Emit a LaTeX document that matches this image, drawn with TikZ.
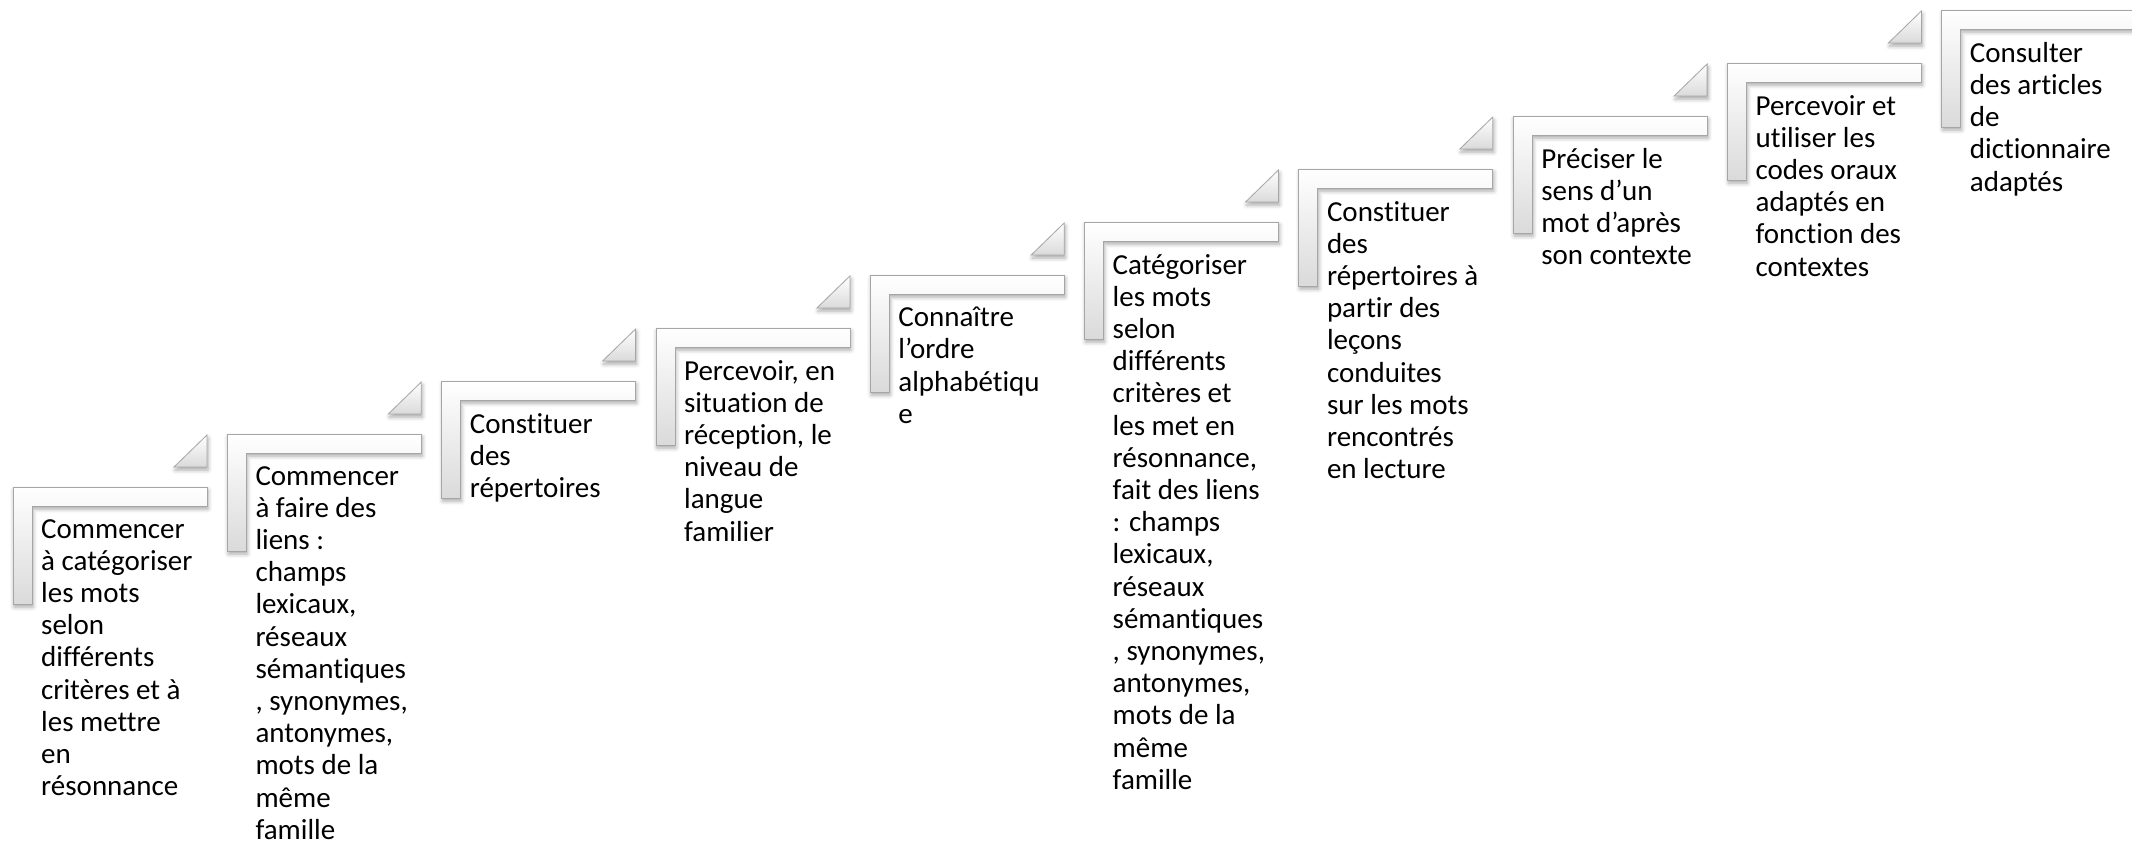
\documentclass[tikz,border=0pt]{standalone}
\usepackage{fontspec}
\setmainfont{Carlito}[Ligatures=NoCommon]
\usepackage{tikz}
\usetikzlibrary{shadows.blur}
\definecolor{stepedge}{HTML}{A6A6A6}
\definecolor{stepshade}{HTML}{DADADA}

\begin{document}
\begin{tikzpicture}[
  x=1pt, y=-1pt,
  stepbar/.style={draw=stepedge,line width=0.8pt,top color=white,bottom color=stepshade,
                  blur shadow={shadow xshift=1pt,shadow yshift=-3pt,
                               shadow blur radius=4pt,shadow opacity=35}},
  stepshape/.pic={
    \path[stepbar] (0,0) -- (194,0) -- (194,19) -- (19,19) -- (19,117) -- (0,117) -- cycle;
  },
  stepcorner/.pic={
    \path[stepbar] (194,-52) -- (194,-20) -- (161,-20) -- cycle;
  },
  lbl/.style={anchor=north west,inner sep=0pt,align=left,
              font=\fontsize{29}{32.2}\selectfont,execute at begin node=\strut}
]
  \useasboundingbox (0,0) rectangle (2132,846);

  % the stairs
  \pic at (13,487) {stepshape};
  \pic at (227.3,434) {stepshape};
  \pic at (441.6,381) {stepshape};
  \pic at (655.9,328) {stepshape};
  \pic at (870.2,275) {stepshape};
  \pic at (1084.5,222) {stepshape};
  \pic at (1298.8,169) {stepshape};
  \pic at (1513.1,116) {stepshape};
  \pic at (1727.4,63) {stepshape};
  \pic at (1941.7,10) {stepshape};

  \pic at (13,487) {stepcorner};
  \pic at (227.3,434) {stepcorner};
  \pic at (441.6,381) {stepcorner};
  \pic at (655.9,328) {stepcorner};
  \pic at (870.2,275) {stepcorner};
  \pic at (1084.5,222) {stepcorner};
  \pic at (1298.8,169) {stepcorner};
  \pic at (1513.1,116) {stepcorner};
  \pic at (1727.4,63) {stepcorner};

  % texts
  \node[lbl] (categ) at (41,519) {Commencer\\à catégoriser\\les mots\\selon\\différents\\critères et à\\les mettre\\en\\résonnance};
  \node[lbl] (liens) at (255.3,466) {Commencer\\à faire des\\liens :\\champs\\lexicaux,\\réseaux\\sémantiques\\, synonymes,\\antonymes,\\mots de la\\même\\famille};
  \node[lbl] (reper) at (469.6,413) {Constituer\\des\\répertoires};
  \node[lbl] (niveau) at (683.9,360) {Percevoir, en\\situation de\\réception, le\\niveau de\\langue\\familier};
  \node[lbl] (ordre) at (898.2,307) {Connaître\\l’ordre\\alphabétiqu\\e};
  \node[lbl] (categ2) at (1112.5,254) {Catégoriser\\les mots\\selon\\différents\\critères et\\les met en\\résonnance,\\fait des liens\\: champs\\lexicaux,\\réseaux\\sémantiques\\, synonymes,\\antonymes,\\mots de la\\même\\famille};
  \node[lbl] (reper2) at (1326.8,201) {Constituer\\des\\répertoires à\\partir des\\leçons\\conduites\\sur les mots\\rencontrés\\en lecture};
  \node[lbl] (sens) at (1541.1,148) {Préciser le\\sens d’un\\mot d’après\\son contexte};
  \node[lbl] (oraux) at (1755.4,95) {Percevoir et\\utiliser les\\codes oraux\\adaptés en\\fonction des\\contextes};
  \node[lbl] (dico) at (1969.7,42) {Consulter\\des articles\\de\\dictionnaire\\adaptés};
\end{tikzpicture}
\end{document}
